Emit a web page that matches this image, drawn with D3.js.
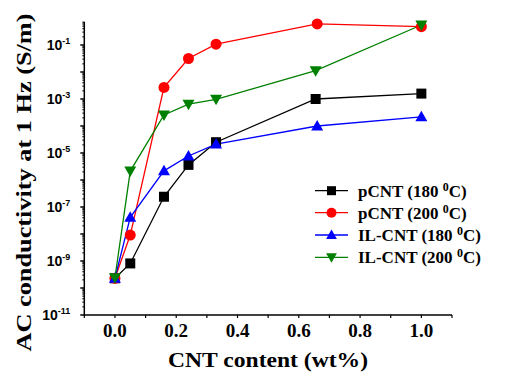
<!DOCTYPE html>
<html><head><meta charset="utf-8">
<script src="https://cdn.jsdelivr.net/npm/d3@7"></script>
<style>body{margin:0;background:#fff}svg{display:block}
.serif{font-family:"Liberation Serif","Times New Roman",serif;font-weight:bold}
.sans{font-family:"Liberation Sans",Arial,sans-serif;font-weight:bold}
</style>
</head><body>
<svg id="c" width="510" height="380"></svg>
<script>
const xTicks = [0.0, 0.2, 0.4, 0.6, 0.8, 1.0];
const yTickExps = [-11, -9, -7, -5, -3, -1];
const pcnt180_x = [0, 0.05, 0.16, 0.24, 0.33, 0.655, 1.0];
const pcnt180_y = [-9.64, -9.09, -6.62, -5.44, -4.60, -3.0, -2.80];
const pcnt200_x = [0, 0.05, 0.16, 0.24, 0.33, 0.66, 1.0];
const pcnt200_y = [-9.64, -8.04, -2.57, -1.50, -0.97, -0.22, -0.32];
const il180_x = [0, 0.05, 0.16, 0.24, 0.33, 0.66, 1.0];
const il180_y = [-9.64, -7.38, -5.66, -5.11, -4.67, -4.0, -3.66];
const il200_x = [0, 0.05, 0.16, 0.24, 0.33, 0.655, 1.0];
const il200_y = [-9.62, -5.67, -3.59, -3.19, -3.01, -1.95, -0.26];
const seriesNames = ["pCNT (180 ", "pCNT (200 ", "IL-CNT (180 ", "IL-CNT (200 "];
const seriesColors = ["#000000", "#ff0000", "#0000ff", "#008000"];
const seriesSymbols = ["square", "circle", "tri-up", "tri-down"];
const xs = [pcnt180_x, pcnt200_x, il180_x, il200_x];
const ys = [pcnt180_y, pcnt200_y, il180_y, il200_y];

const svg = d3.select("#c");
const x = d3.scaleLinear().domain([-0.1, 1.1]).range([84.3, 452]);
const y = d3.scaleLog().domain([1e-11, Math.pow(10, -0.137)]).range([315, 21.7]);

// y axis
const ya = svg.append("g").attr("transform", "translate(84.3,0)");
ya.append("line").attr("x1",0).attr("x2",0).attr("y1",y.range()[0]).attr("y2",y.range()[1]).attr("stroke","#000").attr("stroke-width",1.5);
const minor = [];
for (let e = -11; e < 0; e++) for (let m = 2; m <= 9; m++) { const v = m * Math.pow(10, e); if (v <= y.domain()[1]) minor.push(v); }
ya.selectAll(".mn").data(minor).join("line").attr("x1",-2).attr("x2",0).attr("y1",d=>y(d)).attr("y2",d=>y(d)).attr("stroke","#000").attr("stroke-width",1);
const decs = d3.range(-11, 0).map(e => Math.pow(10, e));
ya.selectAll(".mj").data(decs).join("line").attr("x1",-4).attr("x2",0).attr("y1",d=>y(d)).attr("y2",d=>y(d)).attr("stroke","#000").attr("stroke-width",1.5);
const yl = ya.selectAll(".yl").data(yTickExps).join("text").attr("class","sans")
  .attr("x", -14).attr("y", d => y(Math.pow(10, d)) + 5)
  .attr("text-anchor", "end").style("font-size", "14px");
yl.append("tspan").text("10");
yl.append("tspan").attr("dy", -6).style("font-size", "9px").text(d => String(d));

// x axis
const xa = svg.append("g").attr("transform", "translate(0,315)");
xa.append("line").attr("x1",x.range()[0]).attr("x2",x.range()[1]).attr("y1",0).attr("y2",0).attr("stroke","#000").attr("stroke-width",1.5);
xa.selectAll(".xt").data(d3.range(-0.1, 1.11, 0.1)).join("line").attr("x1",d=>x(d)).attr("x2",d=>x(d)).attr("y1",0).attr("y2",3).attr("stroke","#000").attr("stroke-width",1.2);
xa.selectAll(".xl").data(xTicks).join("text").attr("class","serif").attr("x", d => x(d)).attr("y", 22).attr("text-anchor","middle")
  .style("font-size","19px").text(d => d.toFixed(1));

// titles
svg.append("text").attr("class","serif").attr("x", 268).attr("y", 367).attr("text-anchor","middle")
  .style("font-size","22px").attr("textLength", 200).attr("lengthAdjust","spacingAndGlyphs")
  .text("CNT content (wt%)");
svg.append("text").attr("class","serif").attr("transform","translate(31,182.5) rotate(-90)").attr("text-anchor","middle")
  .style("font-size","22px").attr("textLength", 338).attr("lengthAdjust","spacingAndGlyphs")
  .text("AC conductivity at 1 Hz (S/m)");

function sym(g, type, color, size) {
  const s = size;
  if (type === "square") g.append("rect").attr("x",-s/2).attr("y",-s/2).attr("width",s).attr("height",s).attr("fill",color);
  else if (type === "circle") g.append("circle").attr("r", s/2 + 0.5).attr("fill", color);
  else if (type === "tri-up") g.append("path").attr("d", `M0,${-s*0.6}L${s*0.6},${s*0.45}L${-s*0.6},${s*0.45}Z`).attr("fill", color);
  else g.append("path").attr("d", `M0,${s*0.6}L${s*0.6},${-s*0.45}L${-s*0.6},${-s*0.45}Z`).attr("fill", color);
}

const line = d3.line().x(d => x(d[0])).y(d => y(Math.pow(10, d[1])));
for (let i = 0; i < 4; i++) {
  const pts = xs[i].map((v, j) => [v, ys[i][j]]);
  svg.append("path").attr("d", line(pts)).attr("fill","none").attr("stroke", seriesColors[i]).attr("stroke-width", 1.3);
}
for (let i = 0; i < 4; i++) {
  const pts = xs[i].map((v, j) => [v, ys[i][j]]);
  pts.forEach(p => {
    const g = svg.append("g").attr("transform", `translate(${x(p[0])},${y(Math.pow(10, p[1]))})`);
    sym(g, seriesSymbols[i], seriesColors[i], 10);
  });
}

// legend
const legY = [190.7, 212.7, 235, 257.3];
for (let i = 0; i < 4; i++) {
  const g = svg.append("g").attr("transform", `translate(0,${legY[i]})`);
  g.append("line").attr("x1",315).attr("x2",348).attr("y1",0).attr("y2",0).attr("stroke",seriesColors[i]).attr("stroke-width",1.3);
  const sg = g.append("g").attr("transform","translate(331.5,0)");
  sym(sg, seriesSymbols[i], seriesColors[i], 9);
  const t = g.append("text").attr("class","serif").attr("x", 358).attr("y", 6).style("font-size","17px");
  t.append("tspan").text(seriesNames[i]);
  t.append("tspan").attr("dy", -6).style("font-size","12px").text("0");
  t.append("tspan").attr("dy", 6).text("C)");
}
</script>
</body></html>
